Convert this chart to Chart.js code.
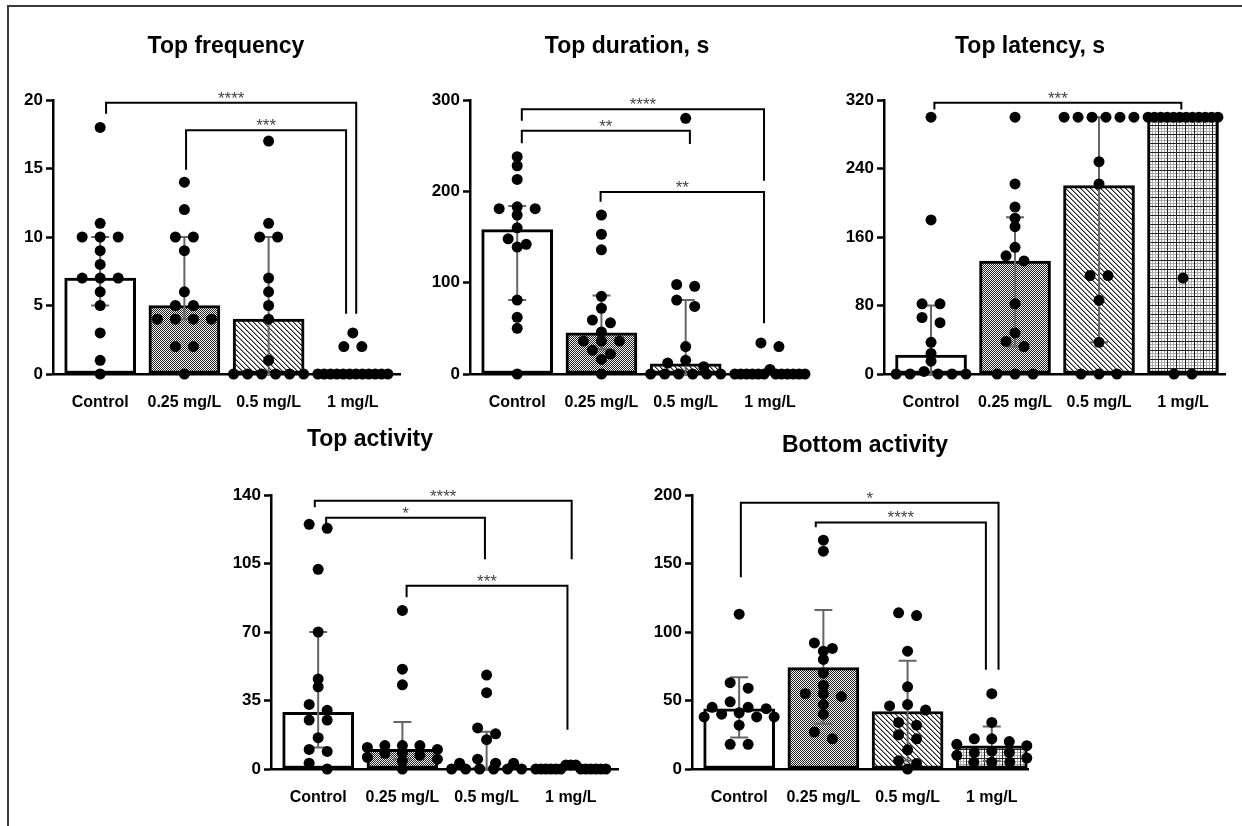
<!DOCTYPE html>
<html>
<head>
<meta charset="utf-8">
<script src="https://cdn.jsdelivr.net/npm/chart.js@4.4.1/dist/chart.umd.min.js"></script>
<style>
  html, body { margin: 0; padding: 0; background: #fff; }
  body { width: 1242px; height: 826px; position: relative; overflow: hidden; }
  .frame { position: absolute; left: 7px; top: 5px; right: -4px; bottom: -4px;
           border-top: 2px solid #3a3a3a; border-left: 2px solid #3a3a3a; }
  canvas { position: absolute; }
</style>
</head>
<body>
<div class="frame"></div>
<canvas id="freq"></canvas>
<canvas id="dur"></canvas>
<canvas id="lat"></canvas>
<canvas id="act"></canvas>
<canvas id="bot"></canvas>
<script>
'use strict';

/* ══════════════ DATA ══════════════ */
const CATS = ['Control', '0.25 mg/L', '0.5 mg/L', '1 mg/L'];

// Top frequency
const freqCtrl = [18, 11, 10, 10, 10, 9, 8, 7, 7, 7, 6, 5, 3, 1, 0];
const freq025  = [14, 12, 10, 10, 9, 6, 5, 5, 4, 4, 4, 4, 2, 2, 0];
const freq05   = [17, 11, 10, 10, 7, 6, 5, 4, 1, 0, 0, 0, 0, 0, 0];
const freq1    = [3, 2, 2, 0, 0, 0, 0, 0, 0, 0, 0, 0, 0, 0, 0];
const freqMedian = [7, 5, 4, 0];
const freqLow    = [5, 4, 0, null];
const freqHigh   = [10, 10, 10, null];
const freqTicks  = [0, 5, 10, 15, 20];
// [from, to, bar level, left leg end, right leg end, label]
const freqBrackets = [
  [0.07, 3.04, 19.8, 19.0, 4.4, '****'],
  [1.02, 2.92, 17.8, 14.9, 4.4, '***']
];

// Top duration, s
const durCtrl = [238, 228, 213, 183, 181, 181, 174, 160, 148, 142, 139, 81, 62, 50, 0];
const dur025  = [174, 153, 136, 85, 72, 59, 56, 46, 36, 36, 36, 26, 22, 16, 0];
const dur05   = [280, 98, 96, 81, 74, 30, 15, 12, 8, 0, 0, 0, 0, 0, 0];
const dur1    = [34, 30, 5, 0, 0, 0, 0, 0, 0, 0, 0, 0, 0, 0, 0];
const durMedian = [158, 45, 11, 0];
const durLow    = [81, 27, 0, null];
const durHigh   = [184, 86, 81, null];
const durTicks  = [0, 100, 200, 300];
const durBrackets = [
  [0.055, 2.93, 289.8, 277.4, 211.7, '****'],
  [0.055, 2.05, 266.4, 252.6, 251.8, '**'],
  [0.99, 2.93, 199.3, 188.7, 55.5, '**']
];

// Top latency, s
const latCtrl = [300, 180, 82, 82, 66, 60, 37, 24, 15, 3, 0, 0, 0, 0, 0];
const lat025  = [300, 222, 195, 182, 172, 148, 138, 132, 82, 48, 38, 32, 0, 0, 0];
const lat05   = [300, 300, 300, 300, 300, 300, 248, 222, 115, 115, 86, 37, 0, 0, 0];
const lat1    = [300, 300, 300, 300, 300, 300, 300, 300, 300, 300, 300, 300, 112, 0, 0];
const latMedian = [22, 132, 220, 300];
const latLow    = [0, 32, 37, null];
const latHigh   = [80, 183, 300, null];
const latTicks  = [0, 80, 160, 240, 320];
const latBrackets = [
  [0.04, 2.98, 316.9, 309, 309, '***']
];

// Top activity
const actCtrl = [125, 123, 102, 70, 46, 42, 33, 30, 25, 25, 16, 10, 9, 3, 0];
const act025  = [81, 51, 43, 12, 12, 12, 11, 10, 8, 8, 7, 6, 5, 4, 0];
const act05   = [48, 39, 21, 18, 15, 5, 3, 3, 3, 0, 0, 0, 0, 0, 0];
const act1    = [2, 2, 2, 0, 0, 0, 0, 0, 0, 0, 0, 0, 0, 0, 0];
const actMedian = [29, 10, 1, 0];
const actLow    = [11, 5, 0, null];
const actHigh   = [70, 24, 19, null];
const actTicks  = [0, 35, 70, 105, 140];
const actBrackets = [
  [-0.04, 3.01, 137.1, 133.7, 107.2, '****'],
  [0.095, 1.98, 128.4, 125.2, 107.2, '*'],
  [1.05, 2.96, 93.6, 87.8, 20.1, '***']
];

// Bottom activity
const botCtrl = [113, 63, 59, 49, 45, 45, 44, 41, 40, 38, 38, 38, 32, 18, 18];
const bot025  = [167, 159, 92, 88, 86, 80, 70, 61, 55, 55, 53, 47, 40, 27, 22];
const bot05   = [114, 112, 86, 60, 47, 46, 43, 34, 32, 25, 22, 14, 6, 4, 0];
const bot1    = [55, 34, 22, 22, 20, 18, 17, 13, 12, 12, 10, 8, 5, 5, 5];
const botMedian = [44, 74, 42, 17];
const botLow    = [23, 33, 6, 6];
const botHigh   = [67, 116, 79, 31];
const botTicks  = [0, 50, 100, 150, 200];
const botBrackets = [
  [0.02, 3.08, 194.4, 140, 72.4, '*'],
  [0.91, 2.93, 180, 176.4, 72.4, '****']
];

/* ══════════════ STYLE ══════════════ */
const FONT = '"Liberation Sans", Arial, sans-serif';
const PLOT_H = 274;      // px between 0 and top tick
const CAT_PX = 84.2;     // px between category centres
const DOT_GAP = 18, DOT_MAXW = 70, ROW_TOL = 7;

function makePattern(kind) {
  const c = document.createElement('canvas');
  const g = c.getContext('2d');
  if (kind === 'white') return '#fff';
  if (kind === 'stipple') {
    c.width = c.height = 2;
    g.fillStyle = '#f4f4f4'; g.fillRect(0, 0, 2, 2);
    g.fillStyle = '#222'; g.fillRect(0, 0, 1, 1); g.fillRect(1, 1, 1, 1);
  } else if (kind === 'hatch') {
    c.width = c.height = 5;
    g.fillStyle = '#fff'; g.fillRect(0, 0, 5, 5);
    for (let i = 0; i < 5; i++) {
      g.fillStyle = '#222'; g.fillRect(i, i, 1, 1);
      g.fillStyle = '#999'; g.fillRect((i + 1) % 5, i, 1, 1);
    }
  } else if (kind === 'grid') {
    c.width = c.height = 9;
    g.fillStyle = '#fff'; g.fillRect(0, 0, 9, 9);
    g.fillStyle = '#aaa';
    [3, 6].forEach(p => { g.fillRect(p, 0, 1, 9); g.fillRect(0, p, 9, 1); });
    g.fillStyle = '#222'; g.fillRect(0, 0, 1, 9); g.fillRect(0, 0, 9, 1);
  }
  return g.createPattern(c, 'repeat');
}
const FILLS = ['white', 'stipple', 'hatch', 'grid'].map(makePattern);

// Dot plot layout: values close in height share a row, rows are centred on the category
function spread(values, yMax) {
  const pxPerUnit = PLOT_H / yMax;
  const rows = [];
  values.slice().sort((a, b) => b - a).forEach(v => {
    const row = rows[rows.length - 1];
    if (row && (row[0] - v) * pxPerUnit < ROW_TOL) row.push(v); else rows.push([v]);
  });
  const out = [];
  rows.forEach(row => {
    const n = row.length;
    const gap = n > 1 ? Math.min(DOT_GAP, DOT_MAXW / (n - 1)) : 0;
    const slots = row.map((_, k) => (k - (n - 1) / 2) * gap)
      .sort((a, b) => Math.abs(a) - Math.abs(b) || a - b);
    row.forEach((v, k) => out.push({ off: slots[k] / CAT_PX, y: v }));
  });
  return out;
}

function decor(cfg, canvasLeft, canvasTop) {
  return {
    id: 'decor',
    afterDatasetDraw(chart, args) {
      if (args.meta.type !== 'bar') return;
      const { ctx, scales: { x, y } } = chart;
      ctx.save();
      ctx.strokeStyle = '#666'; ctx.lineWidth = 2;
      cfg.low.forEach((lo, i) => {
        const hi = cfg.high[i];
        if (lo == null || hi == null) return;
        const px = x.getPixelForValue(i), y1 = y.getPixelForValue(lo), y2 = y.getPixelForValue(hi);
        ctx.beginPath();
        ctx.moveTo(px, y1); ctx.lineTo(px, y2);
        ctx.moveTo(px - 9, y1); ctx.lineTo(px + 9, y1);
        ctx.moveTo(px - 9, y2); ctx.lineTo(px + 9, y2);
        ctx.stroke();
      });
      ctx.restore();
    },
    afterDraw(chart) {
      const { ctx, scales: { x, y } } = chart;
      ctx.save();
      // significance brackets
      ctx.strokeStyle = '#000'; ctx.lineWidth = 2; ctx.lineJoin = 'miter';
      ctx.fillStyle = '#444'; ctx.font = '17px ' + FONT;
      ctx.textAlign = 'center'; ctx.textBaseline = 'alphabetic';
      cfg.brackets.forEach(([a, b, lvl, endA, endB, label]) => {
        const xa = x.getPixelForValue(a), xb = x.getPixelForValue(b), yl = y.getPixelForValue(lvl);
        ctx.beginPath();
        ctx.moveTo(xa, y.getPixelForValue(endA));
        ctx.lineTo(xa, yl); ctx.lineTo(xb, yl);
        ctx.lineTo(xb, y.getPixelForValue(endB));
        ctx.stroke();
        ctx.fillText(label, (xa + xb) / 2, yl + 1);
      });
      // panel title
      ctx.fillStyle = '#000'; ctx.font = 'bold 23px ' + FONT;
      ctx.textBaseline = 'middle';
      ctx.fillText(cfg.title, cfg.titleX - canvasLeft, cfg.titleY - canvasTop);
      ctx.restore();
    }
  };
}

function panel(id, cfg) {
  const el = document.getElementById(id);
  const left = cfg.axisX - 50, top = cfg.titleY - 30;
  el.width = cfg.axisRight - cfg.axisX + 60;
  el.height = cfg.axisBottom - top + 45;
  el.style.left = left + 'px';
  el.style.top = top + 'px';
  const yMax = cfg.ticks[cfg.ticks.length - 1];
  const dots = [];
  cfg.groups.forEach((vals, i) => spread(vals, yMax).forEach(p => dots.push({ x: i + p.off, y: p.y })));

  return new Chart(el, {
    type: 'bar',
    data: {
      datasets: [
        { type: 'scatter', data: dots, pointRadius: 5.5, pointHoverRadius: 5.5,
          backgroundColor: '#000', borderWidth: 0, clip: false, order: 1 },
        { type: 'bar', data: cfg.median.map((m, i) => ({ x: i, y: m })),
          backgroundColor: FILLS, borderColor: '#000', borderWidth: 3,
          borderSkipped: false, barThickness: 71, order: 2 }
      ]
    },
    options: {
      responsive: false, animation: false,
      layout: { padding: { top: cfg.axisTop - top, right: 10, left: 0, bottom: 0 } },
      plugins: { legend: { display: false }, tooltip: { enabled: false } },
      scales: {
        x: {
          type: 'linear', min: -0.56, max: cfg.xMax, offset: false,
          afterBuildTicks: s => { s.ticks = CATS.map((_, i) => ({ value: i })); },
          afterFit: s => { s.height = 45; },
          ticks: { callback: v => CATS[v], color: '#000', padding: 11, autoSkip: false, maxRotation: 0,
                   font: { family: FONT, size: 16, weight: 'bold' } },
          grid: { display: false },
          border: { color: '#000', width: 2.5 }
        },
        y: {
          min: 0, max: yMax,
          afterBuildTicks: s => { s.ticks = cfg.ticks.map(v => ({ value: v })); },
          afterFit: s => { s.width = 50; },
          ticks: { color: '#000', padding: 3, font: { family: FONT, size: 17, weight: 'bold' } },
          grid: { drawOnChartArea: false, drawTicks: true, tickLength: 7, tickWidth: 2.5, tickColor: '#000' },
          border: { color: '#000', width: 2.5 }
        }
      }
    },
    plugins: [decor(cfg, left, top)]
  });
}

/* ══════════════ BOOT ══════════════ */
panel('freq', { title: 'Top frequency', titleX: 226, titleY: 47,
  axisX: 53, axisRight: 400, axisTop: 100, axisBottom: 374, xMax: 3.56,
  groups: [freqCtrl, freq025, freq05, freq1], median: freqMedian, low: freqLow, high: freqHigh,
  ticks: freqTicks, brackets: freqBrackets });

panel('dur', { title: 'Top duration, s', titleX: 627, titleY: 47,
  axisX: 470, axisRight: 807, axisTop: 100, axisBottom: 374, xMax: 3.44,
  groups: [durCtrl, dur025, dur05, dur1], median: durMedian, low: durLow, high: durHigh,
  ticks: durTicks, brackets: durBrackets });

panel('lat', { title: 'Top latency, s', titleX: 1030, titleY: 47,
  axisX: 884, axisRight: 1225, axisTop: 100, axisBottom: 374, xMax: 3.5,
  groups: [latCtrl, lat025, lat05, lat1], median: latMedian, low: latLow, high: latHigh,
  ticks: latTicks, brackets: latBrackets });

panel('act', { title: 'Top activity', titleX: 370, titleY: 440,
  axisX: 271, axisRight: 618, axisTop: 495, axisBottom: 769, xMax: 3.56,
  groups: [actCtrl, act025, act05, act1], median: actMedian, low: actLow, high: actHigh,
  ticks: actTicks, brackets: actBrackets });

panel('bot', { title: 'Bottom activity', titleX: 865, titleY: 446,
  axisX: 692, axisRight: 1028, axisTop: 495, axisBottom: 769, xMax: 3.43,
  groups: [botCtrl, bot025, bot05, bot1], median: botMedian, low: botLow, high: botHigh,
  ticks: botTicks, brackets: botBrackets });
</script>
</body>
</html>
